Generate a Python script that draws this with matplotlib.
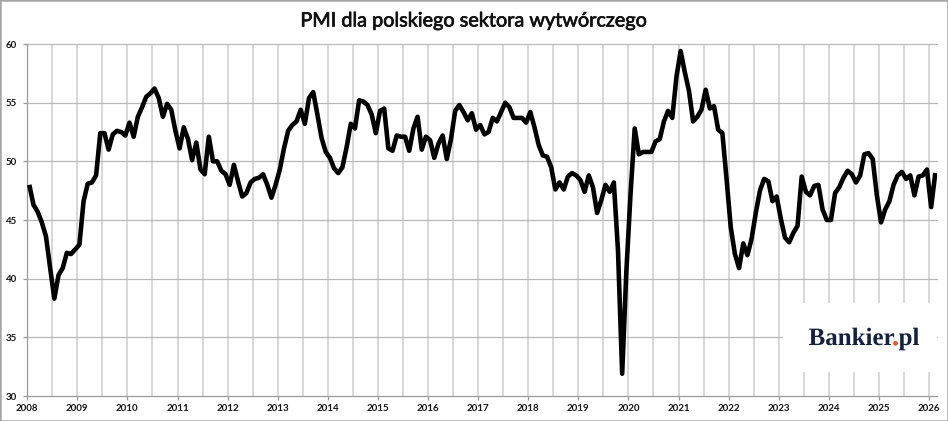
import numpy as np
import matplotlib
matplotlib.use("Agg")
import matplotlib.pyplot as plt
from matplotlib.patches import Rectangle, PathPatch
from matplotlib.transforms import Affine2D
from matplotlib.textpath import TextPath
from matplotlib.font_manager import FontProperties
import matplotlib.patheffects as pe

# ---- data: monthly PMI readings (first point mid-2008, last point mid-2026) ----
pmi_2008 = [48.0, 46.3, 45.7, 44.8, 43.6, 40.9, 38.3]
pmi_2009 = [40.3, 40.9, 42.2, 42.1, 42.5, 42.9, 46.6, 48.1, 48.2, 48.8, 52.4, 52.4]
pmi_2010 = [51.0, 52.3, 52.6, 52.5, 52.2, 53.3, 52.1, 53.8, 54.6, 55.5, 55.8, 56.2]
pmi_2011 = [55.4, 53.8, 54.9, 54.4, 52.6, 51.1, 52.9, 51.9, 50.1, 51.6, 49.3, 48.9]
pmi_2012 = [52.1, 50.0, 50.0, 49.2, 48.9, 48.0, 49.7, 48.3, 47.0, 47.3, 48.2, 48.5]
pmi_2013 = [48.6, 48.9, 48.0, 46.9, 48.0, 49.3, 51.1, 52.6, 53.1, 53.4, 54.4, 53.2]
pmi_2014 = [55.4, 55.9, 54.0, 52.0, 50.8, 50.3, 49.4, 49.0, 49.5, 51.2, 53.2, 52.8]
pmi_2015 = [55.2, 55.1, 54.8, 54.0, 52.4, 54.3, 54.5, 51.1, 50.9, 52.2, 52.1, 52.1]
pmi_2016 = [50.9, 52.8, 53.8, 51.0, 52.1, 51.8, 50.3, 51.5, 52.2, 50.2, 51.9, 54.3]
pmi_2017 = [54.8, 54.2, 53.5, 54.1, 52.7, 53.1, 52.3, 52.5, 53.7, 53.4, 54.2, 55.0]
pmi_2018 = [54.6, 53.7, 53.7, 53.7, 53.3, 54.2, 52.9, 51.4, 50.5, 50.4, 49.5, 47.6]
pmi_2019 = [48.2, 47.6, 48.7, 49.0, 48.8, 48.4, 47.4, 48.8, 47.8, 45.6, 46.7, 48.0]
pmi_2020 = [47.4, 48.2, 42.4, 31.9, 40.6, 47.2, 52.8, 50.6, 50.8, 50.8, 50.8, 51.7]
pmi_2021 = [51.9, 53.4, 54.3, 53.7, 57.2, 59.4, 57.6, 56.0, 53.4, 53.8, 54.4, 56.1]
pmi_2022 = [54.5, 54.7, 52.7, 52.4, 48.5, 44.4, 42.1, 40.9, 43.0, 42.0, 43.4, 45.6]
pmi_2023 = [47.5, 48.5, 48.3, 46.6, 47.0, 45.1, 43.5, 43.1, 43.9, 44.5, 48.7, 47.4]
pmi_2024 = [47.1, 47.9, 48.0, 45.9, 45.0, 45.0, 47.3, 47.8, 48.6, 49.2, 48.9, 48.2]
pmi_2025 = [48.8, 50.6, 50.7, 50.2, 47.1, 44.8, 45.9, 46.6, 48.0, 48.8, 49.1, 48.5]
pmi_2026 = [48.8, 47.1, 48.7, 48.8, 49.3, 46.1, 49.0]

pmi = (pmi_2008 + pmi_2009 + pmi_2010 + pmi_2011 + pmi_2012 + pmi_2013 + pmi_2014
       + pmi_2015 + pmi_2016 + pmi_2017 + pmi_2018 + pmi_2019 + pmi_2020 + pmi_2021
       + pmi_2022 + pmi_2023 + pmi_2024 + pmi_2025 + pmi_2026)

year_labels = [str(y) for y in range(2008, 2027)]
y_ticks = [30, 35, 40, 45, 50, 55, 60]

title = "PMI dla polskiego sektora wytwórczego"

# ---- figure ----
W, H, DPI = 948, 421, 100
fig = plt.figure(figsize=(W / DPI, H / DPI), dpi=DPI)
fig.patch.set_facecolor("white")

ax_left, ax_right, ax_top, ax_bottom = 27.2, 937.4, 44.0, 396.0
ax = fig.add_axes([ax_left / W, (H - ax_bottom) / H,
                   (ax_right - ax_left) / W, (ax_bottom - ax_top) / H])

n = len(pmi)
x = np.arange(n) + 0.5
ax.set_xlim(0, n)
ax.set_ylim(30, 60)

# grid
for gx in range(6, n, 6):
    ax.axvline(gx, color="#d6d6d6", lw=1.3, zorder=0.5)
for gy in y_ticks[1:]:
    ax.axhline(gy, color="#b8b8b8", lw=0.9, zorder=0.6, clip_on=False)

# logo box (covers gridlines)
ax.add_patch(Rectangle((181.0, 32.05), n - 181.0, 37.95 - 32.05,
                       facecolor="white", edgecolor="none", zorder=1))

# line
ax.plot(x, pmi, color="black", lw=3.3, solid_joinstyle="round",
        solid_capstyle="butt", zorder=3)

# axes styling
for s in ["top", "right"]:
    ax.spines[s].set_visible(False)
for s in ["left", "bottom"]:
    ax.spines[s].set_color("#9a9a9a")
    ax.spines[s].set_linewidth(0.9)

ax.set_yticks(y_ticks)
ax.set_yticklabels([str(v) for v in y_ticks])
ax.set_xticks(np.arange(0, len(year_labels) * 12, 12))
ax.set_xticklabels(year_labels)
ax.tick_params(axis="y", length=3, width=0.9, color="#9a9a9a", pad=4.3)
ax.tick_params(axis="x", length=3, width=0.9, color="#9a9a9a", pad=3.0)
for lab in ax.get_xticklabels() + ax.get_yticklabels():
    lab.set_fontfamily("Lato")
    lab.set_fontweight("bold")
    lab.set_fontsize(7.0)
    lab.set_color("#141414")

fig.canvas.draw()
renderer = fig.canvas.get_renderer()

# title, fitted to width
t = fig.text(474 / W, (H - 21) / H, title, ha="center", va="center",
             family="Lato", fontsize=14, color="#111111")
w = t.get_window_extent(renderer).width
t.set_fontsize(14 * 348.0 / w)
t.set_path_effects([pe.withStroke(linewidth=0.5, foreground="#111111")])

# logo "Bankier.pl" drawn as glyph paths (navy text, orange dot)
navy, orange = "#14213d", "#ef5a24"
fp = FontProperties(family="Liberation Serif", weight="bold")
full0 = TextPath((0, 0), "Bankier.pl", size=100, prop=fp)
scale = 110.0 / full0.get_extents().width
S = 100 * scale
full = TextPath((0, 0), "Bankier.pl", size=S, prop=fp)
upto = TextPath((0, 0), "Bankier.", size=S, prop=fp)
dot = TextPath((0, 0), ".", size=S, prop=fp)
dot_off = upto.get_extents().x1 - dot.get_extents().x1
x0, yb = 809.0 - full.get_extents().x0, H - 345.0
fig.patches.append(PathPatch(full, transform=Affine2D().translate(x0, yb),
                             facecolor=navy, edgecolor="none", zorder=5))
fig.patches.append(PathPatch(dot, transform=Affine2D().translate(x0 + dot_off, yb),
                             facecolor=orange, edgecolor=orange, lw=0.3, zorder=6))

# figure border
fig.patches.append(Rectangle((0, 0), 1, 1, transform=fig.transFigure,
                             fill=False, edgecolor="#a6a6a6", lw=1.8,
                             zorder=10))

fig.savefig("out.png", dpi=DPI, facecolor="white")
